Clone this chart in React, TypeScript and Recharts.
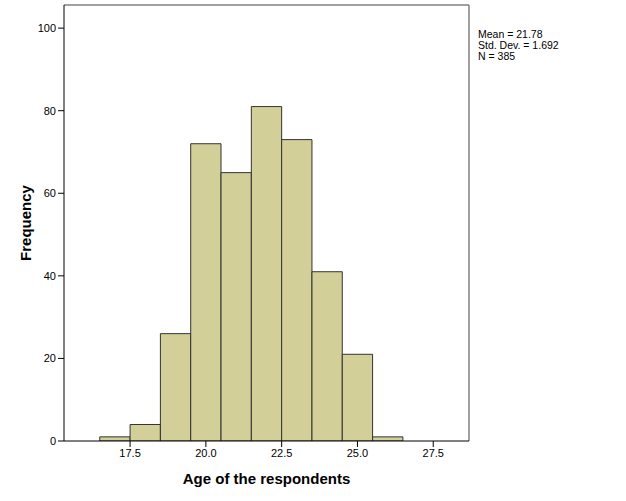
import { ComposedChart, Bar, XAxis, YAxis, ReferenceLine, Label } from "recharts";

const ageBins = [17, 18, 19, 20, 21, 22, 23, 24, 25, 26];
const frequencies = [1, 4, 26, 72, 65, 81, 73, 41, 21, 1];
const xTicks = [17.5, 20.0, 22.5, 25.0, 27.5];
const yTicks = [0, 20, 40, 60, 80, 100];
const statLines = ["Mean = 21.78", "Std. Dev. = 1.692", "N = 385"];

const xDomain: [number, number] = [15.32, 28.68];
const yMax = 105.6;

const data = ageBins.map((age, i) => ({ age, count: frequencies[i] }));

const font = "'Liberation Sans', Arial, sans-serif";
const titleStyle = { fontSize: 15, fontWeight: "bold", fill: "#000", fontFamily: font };

export default function App() {
  return (
    <div style={{ position: "absolute", left: 0, top: 0, width: 626, height: 501, background: "#fff" }}>
      <ComposedChart
        width={626}
        height={501}
        data={data}
        margin={{ top: 5, right: 157, bottom: 0, left: 0 }}
        barCategoryGap={0}
        barGap={0}
      >
        <XAxis
          dataKey="age"
          type="number"
          domain={xDomain}
          ticks={xTicks}
          tickFormatter={(v: number) => v.toFixed(1)}
          height={60}
          stroke="#000"
          tick={{ fill: "#000", fontSize: 11, fontFamily: font }}
          tickLine={{ stroke: "#000" }}
          allowDataOverflow
        >
          <Label value="Age of the respondents" position="center" dy={8} style={titleStyle} />
        </XAxis>
        <YAxis
          type="number"
          domain={[0, yMax]}
          ticks={yTicks}
          width={64}
          stroke="#000"
          tick={{ fill: "#000", fontSize: 11, fontFamily: font }}
          tickLine={{ stroke: "#000" }}
          allowDataOverflow
        >
          <Label value="Frequency" position="center" angle={-90} dx={-6} style={titleStyle} />
        </YAxis>
        <ReferenceLine y={yMax} stroke="#808080" strokeWidth={1.5} />
        <ReferenceLine x={xDomain[1]} stroke="#808080" strokeWidth={1.5} />
        <Bar
          dataKey="count"
          fill="#d3cf98"
          stroke="#333"
          strokeWidth={1}
          barSize={30.3}
          isAnimationActive={false}
        />
      </ComposedChart>
      <div
        style={{
          position: "absolute",
          left: 478,
          top: 29,
          fontFamily: font,
          fontSize: 10.5,
          lineHeight: "11px",
          color: "#000",
        }}
      >
        {statLines.map((s) => (
          <div key={s}>{s}</div>
        ))}
      </div>
    </div>
  );
}
